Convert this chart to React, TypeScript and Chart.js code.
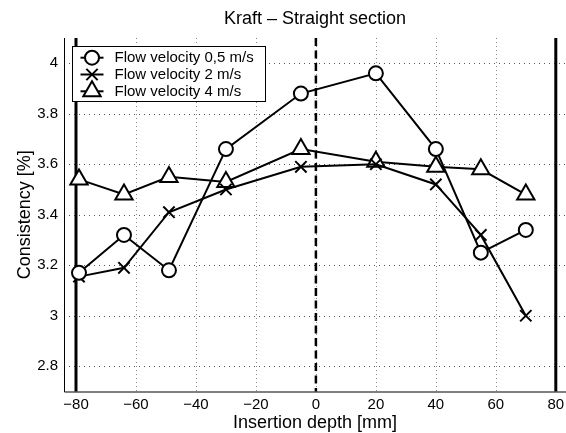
import React, { useEffect, useRef } from "react";
import { Chart, registerables } from "chart.js";

Chart.register(...registerables);

const chartTitle = "Kraft \u2013 Straight section";
const xAxisTitle = "Insertion depth [mm]";
const yAxisTitle = "Consistency [%]";

const depths = [-79, -64, -49, -30, -5, 20, 40, 55, 70];
const flow05 = [3.17, 3.32, 3.18, 3.66, 3.88, 3.96, 3.66, 3.25, 3.34];
const flow2 = [3.155, 3.19, 3.41, 3.5, 3.59, 3.6, 3.52, 3.32, 3.0];
const flow4 = [3.54, 3.48, 3.55, 3.53, 3.66, 3.61, 3.59, 3.58, 3.48];

const seriesLabels = ["Flow velocity 0,5 m/s", "Flow velocity 2 m/s", "Flow velocity 4 m/s"];
const seriesMarkers = ["circle", "crossRot", "triangle"];

const xTicks = [-80, -60, -40, -20, 0, 20, 40, 60, 80];
const yTicks = [2.8, 3, 3.2, 3.4, 3.6, 3.8, 4];
const xLimits = [-84, 83.4];
const yLimits = [2.7, 4.1];

const wallLines = [-80, 80];
const centerLines = [0];

const FONT = "'Liberation Sans', Arial, Helvetica, sans-serif";

function drawMarker(ctx: CanvasRenderingContext2D, style: string, x: number, y: number) {
  ctx.save();
  ctx.lineWidth = 2;
  ctx.strokeStyle = "#000";
  ctx.fillStyle = "#fff";
  ctx.setLineDash([]);
  ctx.beginPath();
  if (style === "circle") {
    ctx.arc(x, y, 7, 0, Math.PI * 2);
    ctx.fill();
    ctx.stroke();
  } else if (style === "triangle") {
    const r = 10;
    ctx.moveTo(x, y - r);
    ctx.lineTo(x + r * Math.sin((2 * Math.PI) / 3), y + r / 2);
    ctx.lineTo(x - r * Math.sin((2 * Math.PI) / 3), y + r / 2);
    ctx.closePath();
    ctx.fill();
    ctx.stroke();
  } else {
    const d = 8 * Math.cos(Math.PI / 4);
    ctx.moveTo(x - d, y - d);
    ctx.lineTo(x + d, y + d);
    ctx.moveTo(x + d, y - d);
    ctx.lineTo(x - d, y + d);
    ctx.stroke();
  }
  ctx.restore();
}

const decorPlugin = {
  id: "decor",
  beforeDatasetsDraw(chart: any) {
    const { ctx, chartArea } = chart;
    const xs = chart.scales.x;
    const ys = chart.scales.y;
    const { left, right, top, bottom } = chartArea;
    ctx.save();
    // grid
    ctx.lineWidth = 1;
    ctx.strokeStyle = "#555";
    ctx.setLineDash([1, 4]);
    yTicks.forEach((v) => {
      const py = Math.round(ys.getPixelForValue(v)) + 0.5;
      ctx.beginPath();
      ctx.moveTo(left, py);
      ctx.lineTo(right, py);
      ctx.stroke();
    });
    ctx.strokeStyle = "#888";
    ctx.setLineDash([1, 3]);
    xTicks.forEach((v) => {
      const px = Math.round(xs.getPixelForValue(v)) + 0.5;
      ctx.beginPath();
      ctx.moveTo(px, top);
      ctx.lineTo(px, bottom);
      ctx.stroke();
    });
    // axes
    ctx.setLineDash([]);
    ctx.strokeStyle = "#000";
    ctx.lineWidth = 1;
    ctx.beginPath();
    ctx.moveTo(left + 0.5, top);
    ctx.lineTo(left + 0.5, bottom + 0.5);
    ctx.lineTo(right, bottom + 0.5);
    ctx.stroke();
    // wall lines
    ctx.lineWidth = 3;
    wallLines.forEach((v) => {
      const px = xs.getPixelForValue(v);
      ctx.beginPath();
      ctx.moveTo(px, top);
      ctx.lineTo(px, bottom);
      ctx.stroke();
    });
    // center dashed line
    ctx.lineWidth = 2.5;
    ctx.setLineDash([8, 4.5]);
    centerLines.forEach((v) => {
      const px = xs.getPixelForValue(v);
      ctx.beginPath();
      ctx.moveTo(px, top);
      ctx.lineTo(px, bottom);
      ctx.stroke();
    });
    ctx.restore();
  },
  afterDatasetsDraw(chart: any) {
    const { ctx, chartArea } = chart;
    ctx.save();
    // title
    ctx.fillStyle = "#000";
    ctx.font = `18px ${FONT}`;
    ctx.textAlign = "center";
    ctx.textBaseline = "middle";
    ctx.fillText(chartTitle, (chartArea.left + chartArea.right) / 2, 19);
    // legend
    const bx = chartArea.left + 8.5;
    const by = chartArea.top + 8.5;
    const bw = 193;
    const bh = 55;
    ctx.fillStyle = "#fff";
    ctx.fillRect(bx, by, bw, bh);
    ctx.strokeStyle = "#000";
    ctx.lineWidth = 1;
    ctx.setLineDash([]);
    ctx.strokeRect(bx, by, bw, bh);
    ctx.font = `15px ${FONT}`;
    ctx.textAlign = "left";
    ctx.textBaseline = "middle";
    seriesLabels.forEach((label, i) => {
      const ry = by + 11.2 + i * 16.8;
      ctx.strokeStyle = "#000";
      ctx.lineWidth = 2;
      ctx.beginPath();
      ctx.moveTo(bx + 8, ry);
      ctx.lineTo(bx + 31, ry);
      ctx.stroke();
      drawMarker(ctx, seriesMarkers[i], bx + 19.5, ry);
      ctx.fillStyle = "#000";
      ctx.fillText(label, bx + 42, ry + 0.5);
    });
    ctx.restore();
  },
};

export default function App() {
  const canvasRef = useRef<HTMLCanvasElement | null>(null);

  useEffect(() => {
    if (!canvasRef.current) return;
    const seriesValues = [flow05, flow2, flow4];
    const radii = [7, 8, 10];
    const chart = new Chart(canvasRef.current, {
      type: "line",
      data: {
        datasets: seriesValues.map((vals, i) => ({
          label: seriesLabels[i],
          data: depths.map((d, j) => ({ x: d, y: vals[j] })),
          borderColor: "#000",
          borderWidth: 2,
          pointStyle: seriesMarkers[i] as any,
          pointRadius: radii[i],
          pointHoverRadius: radii[i],
          pointBorderWidth: 2,
          pointBorderColor: "#000",
          pointBackgroundColor: "#fff",
          tension: 0,
          fill: false,
          clip: false as any,
        })),
      },
      options: {
        responsive: false,
        animation: false,
        events: [],
        layout: { autoPadding: false, padding: { top: 38, right: 0, left: 0, bottom: 0 } },
        plugins: {
          legend: { display: false },
          title: { display: false },
          tooltip: { enabled: false },
        },
        scales: {
          x: {
            type: "linear",
            min: xLimits[0],
            max: xLimits[1],
            grid: { display: false, drawTicks: false },
            border: { display: false },
            afterBuildTicks: (axis: any) => {
              axis.ticks = xTicks.map((v) => ({ value: v }));
            },
            afterFit: (scale: any) => {
              scale.height = 41.5;
              scale.paddingLeft = 0;
              scale.paddingRight = 0;
            },
            ticks: {
              color: "#000",
              padding: 4,
              font: { family: FONT, size: 15 },
              maxRotation: 0,
              autoSkip: false,
              callback: (v: any) => String(v).replace("-", "\u2212"),
            },
            title: {
              display: true,
              text: xAxisTitle,
              color: "#000",
              font: { family: FONT, size: 18, lineHeight: 1 },
              padding: { top: 0, bottom: 1 },
            },
          },
          y: {
            type: "linear",
            min: yLimits[0],
            max: yLimits[1],
            grid: { display: false, drawTicks: false },
            border: { display: false },
            afterBuildTicks: (axis: any) => {
              axis.ticks = yTicks.map((v) => ({ value: v }));
            },
            afterFit: (scale: any) => {
              scale.width = 64;
              scale.paddingTop = 0;
              scale.paddingBottom = 0;
            },
            ticks: {
              color: "#000",
              padding: 6,
              font: { family: FONT, size: 15 },
              autoSkip: false,
              callback: (v: any) => String(Math.round(Number(v) * 10) / 10),
            },
            title: {
              display: true,
              text: yAxisTitle,
              color: "#000",
              font: { family: FONT, size: 18, lineHeight: 1 },
              padding: { top: 16.5, bottom: 0 },
            },
          },
        },
      },
      plugins: [decorPlugin],
    });
    return () => chart.destroy();
  }, []);

  return (
    <div style={{ position: "absolute", left: 0, top: 0, width: 566, height: 433, background: "#fff" }}>
      <canvas ref={canvasRef} width={566} height={433} style={{ display: "block" }} />
    </div>
  );
}
